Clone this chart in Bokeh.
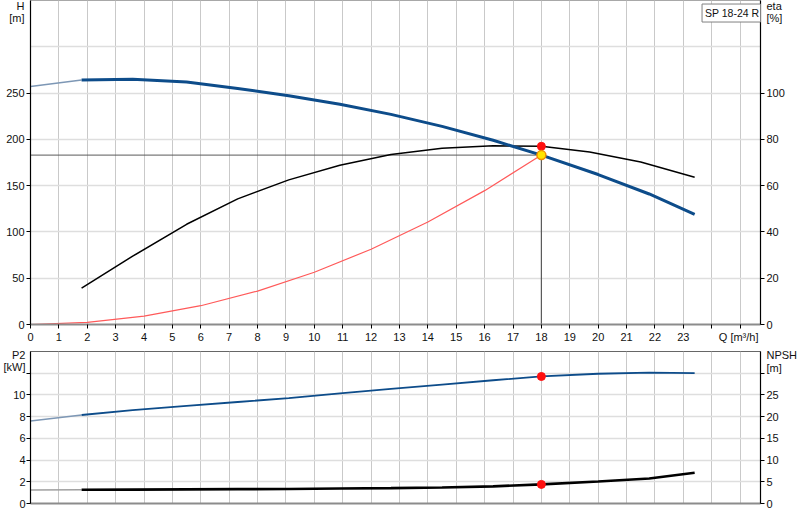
from bokeh.plotting import figure
from bokeh.models import Range1d, LinearAxis, FixedTicker, Label
from bokeh.layouts import column
from bokeh.embed import file_html
from bokeh.resources import INLINE

# ---------------- data ----------------
q_ticks = list(range(0, 26))
q_labels = list(range(0, 24))
h_ticks = [0, 50, 100, 150, 200, 250]
eta_ticks = [0, 20, 40, 60, 80, 100]
p2_ticks = [0, 2, 4, 6, 8, 10, 12]
npsh_ticks = [0, 5, 10, 15, 20, 25, 30]

q_curve = [0, 1.8, 3.6, 5.5, 7.3, 9.1, 10.9, 12.7, 14.5, 16.3, 18.0, 20.0, 21.8, 23.4]
head_m = [257, 264, 265, 262, 255, 247, 238, 227, 214, 199, 183, 162, 141, 119]
p2_kw = [7.6, 8.15, 8.6, 9.0, 9.35, 9.7, 10.15, 10.55, 10.95, 11.35, 11.7, 11.95, 12.05, 12.0]
npsh_m = [3.1, 3.15, 3.2, 3.25, 3.3, 3.35, 3.45, 3.55, 3.7, 3.95, 4.4, 5.05, 5.75, 7.1]

q_eta = [1.8, 3.6, 5.5, 7.3, 9.1, 10.9, 12.7, 14.5, 16.3, 18.0, 19.7, 21.5, 23.4]
eta_pct = [15.7, 29.5, 43.3, 54.3, 62.5, 68.8, 73.5, 76.2, 77.2, 77.0, 74.5, 70.2, 63.6]

q_sys = [0, 2, 4, 6, 8, 10, 12, 14, 16, 18]
h_sys = [0, 2.3, 9.0, 20.3, 36.1, 56.5, 81.3, 110.7, 144.6, 183]

q_op = 18.0
h_op = 183
eta_op = 77.0
p2_op = 11.7
npsh_op = 4.4

pump_name = "SP 18-24 R"
# axis titles: (text, value on the axis where it sits)
h_title = [("H", 344.5), ("[m]", 331.5)]
eta_title = [("eta", 137.8), ("[%]", 132.6)]
q_title = [("Q [m³/h]", 24.95)]
p2_title = [("P2", 13.72), ("[kW]", 12.53)]
npsh_title = [("NPSH", 34.3), ("[m]", 31.3)]

# ---------------- styling ----------------
FONT = "Liberation Sans"
TXT = "#111111"
BLUE = "#0d4c8a"
LIGHT_BLUE = "#7d97b5"
GRID_V = "#c9c9c9"
GRID_H = "#dedede"


def setup_axis(ax, tick_values, labelled, titles, line_color="#000000", line_width=1.2,
               show_ticks=True, standoff=2):
    """Tick marks come from minor ticks; labels (numbers + axis titles) from major ticks."""
    majors = list(labelled) + [v for _, v in titles]
    ax.ticker = FixedTicker(ticks=majors, minor_ticks=list(tick_values))
    ax.major_label_overrides = {v: t for t, v in titles}
    ax.axis_line_color = line_color
    ax.axis_line_width = line_width
    ax.major_tick_line_color = None
    ax.major_tick_out = 4
    ax.major_tick_in = 0
    ax.minor_tick_line_color = "#000000" if show_ticks else None
    ax.minor_tick_out = 4
    ax.minor_tick_in = 0
    ax.major_label_text_font = FONT
    ax.major_label_text_font_size = "11px"
    ax.major_label_text_color = TXT
    ax.major_label_standoff = standoff


# ---------------- top chart ----------------
p1 = figure(width=800, height=345, x_range=Range1d(0, 25.72), y_range=Range1d(0, 350),
            output_backend="svg", toolbar_location=None,
            min_border_left=29, min_border_right=38, min_border_top=0, min_border_bottom=21)
p1.background_fill_color = "white"
p1.border_fill_color = "white"
p1.outline_line_color = "#a8a8a8"
p1.extra_y_ranges = {"eta": Range1d(0, 140)}

p1.xgrid.ticker = FixedTicker(ticks=q_ticks[1:])
p1.xgrid.grid_line_color = GRID_V
p1.xgrid.grid_line_width = 1
p1.ygrid.ticker = FixedTicker(ticks=[50, 100, 150, 200, 250, 300, 350])
p1.ygrid.grid_line_color = GRID_H
p1.ygrid.grid_line_width = 1.6

setup_axis(p1.xaxis[0], q_ticks, q_labels, q_title, line_color="#8c8c8c", line_width=2)
setup_axis(p1.yaxis[0], h_ticks, h_ticks, h_title)

eta_axis = LinearAxis(y_range_name="eta")
setup_axis(eta_axis, eta_ticks, eta_ticks, eta_title)
p1.add_layout(eta_axis, "right")

# system curve
p1.line(q_sys, h_sys, line_color="#ff5a5a", line_width=1.2)
# operating point guide lines
p1.line([0, q_op], [h_op, h_op], line_color="#5a5a5a", line_width=1)
p1.line([q_op, q_op], [0, h_op], line_color="#5a5a5a", line_width=1.2)
# efficiency
p1.line(q_eta, eta_pct, y_range_name="eta", line_color="#000000", line_width=1.5)
# head curve
p1.line(q_curve[:2], head_m[:2], line_color=LIGHT_BLUE, line_width=1.5)
p1.line(q_curve[1:], head_m[1:], line_color=BLUE, line_width=3)
# operating points
p1.scatter([q_op], [eta_op], y_range_name="eta", size=8, fill_color="#ff1010", line_color="#ff1010")
p1.scatter([q_op], [h_op], size=9, fill_color="#ffe400", line_color="#f08c00", line_width=1.5)

p1.add_layout(Label(x=23.66, y=346.2, text=pump_name, text_font=FONT, text_font_size="10.5px",
                    text_color=TXT, text_align="left", text_baseline="top",
                    border_line_color="#808080", background_fill_color="white", padding=3))

# ---------------- bottom chart ----------------
p2 = figure(width=800, height=175, x_range=Range1d(0, 25.72), y_range=Range1d(0, 14.0),
            output_backend="svg", toolbar_location=None,
            min_border_left=29, min_border_right=38, min_border_top=6, min_border_bottom=17)
p2.background_fill_color = "white"
p2.border_fill_color = "white"
p2.outline_line_color = "#666666"
p2.extra_y_ranges = {"npsh": Range1d(0, 35.0)}

p2.xgrid.ticker = FixedTicker(ticks=q_ticks[1:])
p2.xgrid.grid_line_color = GRID_V
p2.xgrid.grid_line_width = 1
p2.ygrid.ticker = FixedTicker(ticks=[2, 4, 6, 8, 10, 12, 14])
p2.ygrid.grid_line_color = GRID_H
p2.ygrid.grid_line_width = 1.6

setup_axis(p2.xaxis[0], q_ticks, [], [], line_color="#8c8c8c", line_width=2, show_ticks=False)
setup_axis(p2.yaxis[0], p2_ticks, p2_ticks[:-1], p2_title, standoff=1)

npsh_axis = LinearAxis(y_range_name="npsh")
setup_axis(npsh_axis, npsh_ticks, npsh_ticks[:-1], npsh_title)
p2.add_layout(npsh_axis, "right")

p2.line(q_curve[:2], p2_kw[:2], line_color=LIGHT_BLUE, line_width=1.3)
p2.line(q_curve[1:], p2_kw[1:], line_color=BLUE, line_width=1.8)
p2.line(q_curve[:2], npsh_m[:2], y_range_name="npsh", line_color="#a0a0a0", line_width=1.5)
p2.line(q_curve[1:], npsh_m[1:], y_range_name="npsh", line_color="#000000", line_width=2.6)
p2.scatter([q_op], [p2_op], size=8, fill_color="#ff1010", line_color="#ff1010")
p2.scatter([q_op], [npsh_op], y_range_name="npsh", size=8, fill_color="#ff1010", line_color="#ff1010")

layout = column(p1, p2, spacing=0)

open("out.html", "w").write(file_html(layout, INLINE))
